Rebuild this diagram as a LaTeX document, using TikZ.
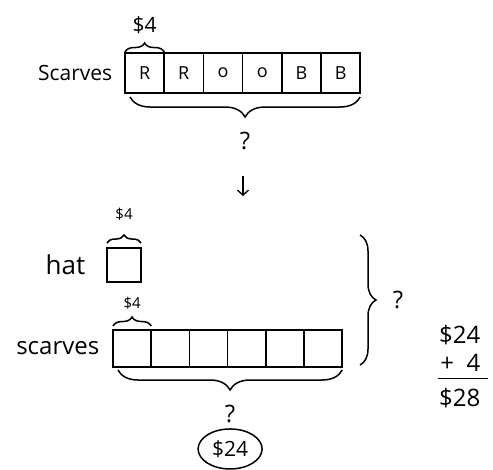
\documentclass[tikz,border=0pt]{standalone}
\usepackage{fontspec}
\setmainfont{Open Sans}
\usetikzlibrary{arrows.meta,positioning,shapes.geometric,decorations.pathreplacing}

\begin{document}
\begin{tikzpicture}[
      x=1pt, y=1pt,
      line width=1.5pt,
      cell/.style={draw, minimum width=39.2pt, minimum height=40pt, inner sep=0pt, outer sep=0pt, font=\fontsize{18}{18}\selectfont},
      lcell/.style={cell, minimum width=38.2pt, minimum height=37pt},
      lbl/.style={inner sep=2pt, font=\fontsize{21}{21}\selectfont},
      big/.style={inner sep=2pt, font=\fontsize{24}{24}\selectfont},
      small/.style={inner sep=2pt, font=\fontsize{15}{15}\selectfont},
      brc/.style={decorate, decoration={brace, amplitude=#1}},
      brc/.default=9pt
    ]
      \useasboundingbox (0,0) rectangle (493,-469);

      % first model: six scarves
      \node[cell] (r1) at (144.6,-73) {R};
      \node[cell, right=0pt of r1] (r2) {R};
      \node[cell, right=0pt of r2] (r3) {o};
      \node[cell, right=0pt of r3] (r4) {o};
      \node[cell, right=0pt of r4] (r5) {B};
      \node[cell, right=0pt of r5] (r6) {B};
      \node[lbl, left=10pt of r1] (scarvesA) {Scarves};
      \draw[brc] ([yshift=1pt]r1.north west) -- ([yshift=1pt]r1.north east)
        node[midway, above=16pt, lbl] (costA) {\$4};
      \draw[brc=20pt] ([yshift=-4pt]r6.south east) -- ([shift={(5,-4)}]r1.south west)
        node[midway, below=32pt, big] (totalA) {?};

      \coordinate (arrTop) at (243,-176);
      \coordinate (arrBot) at (243,-196);
      \draw[line width=1.3pt, -{Straight Barb[length=5pt,width=11pt]}] (arrTop) -- (arrBot);

      % second model: hat and scarves
      \node[cell, minimum width=34pt, minimum height=34pt] (hat) at (124,-265) {};
      \node[big, font=\fontsize{26}{26}\selectfont, left=19pt of hat] (hatlbl) {hat};
      \draw[brc=8pt] ([yshift=5pt]hat.north west) -- ([yshift=5pt]hat.north east)
        node[midway, above=20pt, small] (costHat) {\$4};

      \node[lcell] (s1) at (132.1,-348.5) {};
      \node[lcell, right=0pt of s1] (s2) {};
      \node[lcell, right=0pt of s2] (s3) {};
      \node[lcell, right=0pt of s3] (s4) {};
      \node[lcell, right=0pt of s4] (s5) {};
      \node[lcell, right=0pt of s5] (s6) {};
      \node[big, left=11pt of s1] (scarvesB) {scarves};
      \draw[brc] ([yshift=4pt]s1.north west) -- ([yshift=4pt]s1.north east)
        node[midway, above=14pt, small] (costB) {\$4};
      \draw[brc=20pt] ([yshift=-3pt]s6.south east) -- ([shift={(5,-3)}]s1.south west)
        node[midway, below=32pt, big] (totalB) {?};
      \node[draw, ellipse, minimum width=64pt, minimum height=40pt, inner sep=0pt,
        below=3pt of totalB, font=\fontsize{21}{21}\selectfont] (answer) {\$24};

      \coordinate (rbTop) at (360,-235);
      \coordinate (rbBot) at (360,-365);
      \draw[brc=16pt] (rbTop) -- (rbBot)
        node[midway, right=30pt, big] (totalC) {?};

      % the sum
      \node[big, anchor=east] (sum1) at (483,-335) {\$24};
      \node[big, anchor=east] (sum2) at (483,-363) {+\ \ 4};
      \node[big, anchor=east] (sum3) at (483,-398) {\$28};
      \draw ([yshift=-4pt]sum2.south west) -- ([shift={(5,-4)}]sum2.south east);
    \end{tikzpicture}
\end{document}
